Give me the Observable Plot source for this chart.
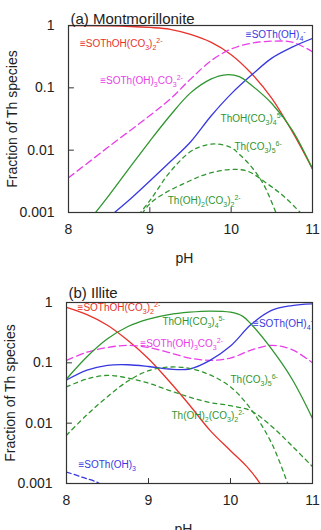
<!DOCTYPE html>
<html><head><meta charset="utf-8">
<script src="https://cdn.jsdelivr.net/npm/d3@7"></script>
<script src="https://cdn.jsdelivr.net/npm/@observablehq/plot@0.6"></script>
<style>
body{margin:0;background:#fff;}
#chart svg{display:block;}
</style></head><body><div id="chart"></div>
<script>
// ---- axes ----
const xTicks = [8, 9, 10, 11];
const yTicks = [0.001, 0.01, 0.1, 1];

// ---- colours ----
const RED = "#e8322a", MAG = "#e83fe8", BLUE = "#3838e0", GREEN = "#2f962f";

// ---- panel (a) Montmorillonite ----
const aRedPH = [8, 8.5, 9, 9.25, 9.5, 9.75, 10, 10.25, 10.5, 10.75, 11];
const aRed   = [1.0, 0.99, 0.93, 0.87, 0.72, 0.54, 0.34, 0.17, 0.068, 0.020, 0.005];
const aMagPH = [8, 8.5, 9, 9.25, 9.5, 9.75, 10, 10.25, 10.5, 10.75, 11];
const aMag   = [0.0036, 0.0115, 0.036, 0.066, 0.138, 0.27, 0.42, 0.52, 0.56, 0.54, 0.38];
const aBluePH = [8.5, 8.75, 9, 9.25, 9.5, 9.75, 10, 10.25, 10.5, 10.75, 11];
const aBlue   = [0.00085, 0.0016, 0.0032, 0.0065, 0.0135, 0.035, 0.08, 0.16, 0.30, 0.45, 0.62];
const aGreenPH = [8.25, 8.5, 8.75, 9, 9.25, 9.5, 9.75, 9.93, 10.1, 10.25, 10.5, 10.75, 11];
const aGreen   = [0.00073, 0.0019, 0.0052, 0.014, 0.036, 0.083, 0.138, 0.162, 0.151, 0.11, 0.056, 0.021, 0.005];
const aTc5PH = [8.8, 9, 9.25, 9.5, 9.65, 9.81, 10, 10.1, 10.25, 10.4, 10.55, 10.62];
const aTc5   = [0.00073, 0.00155, 0.0045, 0.0095, 0.0117, 0.0126, 0.011, 0.0086, 0.0054, 0.0028, 0.001, 0.0006];
const aTo2PH = [8.85, 9, 9.2, 9.44, 9.64, 9.8, 10, 10.2, 10.46, 10.65, 10.85, 10.92];
const aTo2   = [0.00075, 0.00138, 0.0021, 0.003, 0.0039, 0.0045, 0.0049, 0.0046, 0.0028, 0.0018, 0.001, 0.0008];

// ---- panel (b) Illite ----
const bPH = [8, 8.25, 8.5, 8.75, 9, 9.25, 9.5, 9.75, 10, 10.25, 10.5, 10.75, 11];
const bRedPH = [8, 8.25, 8.5, 8.75, 9, 9.25, 9.5, 9.75, 10, 10.2, 10.36, 10.42];
const bRed   = [0.83, 0.63, 0.42, 0.234, 0.117, 0.050, 0.020, 0.0076, 0.0035, 0.0019, 0.001, 0.0007];
const bGreenPH = [8, 8.25, 8.5, 8.75, 9, 9.25, 9.5, 9.75, 10, 10.15, 10.25, 10.5, 10.75, 11];
const bGreen   = [0.054, 0.126, 0.25, 0.40, 0.53, 0.63, 0.69, 0.72, 0.69, 0.59, 0.44, 0.17, 0.054, 0.012];
const bBlue = [0.052, 0.076, 0.091, 0.093, 0.087, 0.079, 0.079, 0.11, 0.19, 0.43, 0.74, 0.89, 0.95];
const bMag  = [0.11, 0.15, 0.18, 0.195, 0.18, 0.148, 0.12, 0.11, 0.12, 0.162, 0.195, 0.166, 0.10];
const bTc5PH = [8, 8.25, 8.5, 8.75, 9, 9.25, 9.5, 9.75, 10, 10.25, 10.5, 10.7, 10.75];
const bTc5   = [0.0063, 0.0138, 0.0275, 0.05, 0.074, 0.085, 0.081, 0.063, 0.040, 0.017, 0.0047, 0.001, 0.0007];
const bTo2  = [0.040, 0.054, 0.062, 0.056, 0.046, 0.035, 0.027, 0.022, 0.0195, 0.016, 0.0089, 0.0042, 0.0019];
const bSo3PH = [8, 8.2, 8.4, 8.46];
const bSo3   = [0.00155, 0.00126, 0.001, 0.0008];

// ---- labels (text, pH, fraction) ----
const aLabels = [
  {t: "≡SOThOH(CO_{3})_{2}^{2-}", x: 8.14, y: 0.51, c: RED},
  {t: "≡SOTh(OH)_{3}CO_{3}^{2-}", x: 8.39, y: 0.13, c: MAG},
  {t: "≡SOTh(OH)_{4}^{-}", x: 10.18, y: 0.72, c: BLUE},
  {t: "ThOH(CO_{3})_{4}^{5-}", x: 9.87, y: 0.032, c: GREEN},
  {t: "Th(CO_{3})_{5}^{6-}", x: 10.04, y: 0.0115, c: GREEN},
  {t: "Th(OH)_{2}(CO_{3})_{2}^{2-}", x: 9.22, y: 0.00155, c: GREEN}
];
const bLabels = [
  {t: "≡SOThOH(CO_{3})_{2}^{2-}", x: 8.135, y: 0.83, c: RED},
  {t: "ThOH(CO_{3})_{4}^{5-}", x: 9.17, y: 0.47, c: GREEN},
  {t: "≡SOTh(OH)_{4}^{-}", x: 10.275, y: 0.45, c: BLUE},
  {t: "≡SOTh(OH)_{3}CO_{3}^{2-}", x: 8.9, y: 0.21, c: MAG},
  {t: "Th(CO_{3})_{5}^{6-}", x: 10.0, y: 0.053, c: GREEN},
  {t: "Th(OH)_{2}(CO_{3})_{2}^{2-}", x: 9.28, y: 0.0134, c: GREEN},
  {t: "≡SOTh(OH)_{3}", x: 8.146, y: 0.00205, c: BLUE}
];

function rows(ph, f) { return ph.map((x, i) => ({x, y: f[i]})); }
const tickShape = {draw(ctx, l) { ctx.moveTo(0, 0); ctx.lineTo(0, -l); }};
const FONT = "'Liberation Sans', Arial, sans-serif";

function richify(svg) {
  svg.querySelectorAll("text").forEach(t => {
    const s = t.textContent;
    if (!/[_^]\{/.test(s)) return;
    t.textContent = "";
    const re = /([_^])\{([^}]*)\}/g;
    let last = 0, m, cur = 0;
    const add = (txt, shift, small) => {
      const ts = document.createElementNS("http://www.w3.org/2000/svg", "tspan");
      ts.textContent = txt;
      const d = shift - cur;
      if (d) ts.setAttribute("dy", d);
      cur = shift;
      if (small) ts.setAttribute("font-size", "7");
      t.appendChild(ts);
    };
    while ((m = re.exec(s))) {
      if (m.index > last) add(s.slice(last, m.index), 0, false);
      add(m[2], m[1] === "_" ? 3 : -4, true);
      last = re.lastIndex;
    }
    if (last < s.length) add(s.slice(last), 0, false);
  });
}

function panel(cfg) {
  const marks = [];
  for (const s of cfg.series) {
    marks.push(Plot.line(rows(s.ph, s.f), {x: "x", y: "y", stroke: s.color, strokeWidth: 1.3,
      strokeDasharray: s.dash, curve: "catmull-rom", clip: true}));
  }
  marks.push(Plot.frame({stroke: "#333", strokeWidth: 1.2}));
  marks.push(Plot.vector(xTicks, {x: d => d, frameAnchor: "bottom", length: 5, rotate: 0, anchor: "start",
    shape: tickShape, stroke: "#333", strokeWidth: 1}));
  marks.push(Plot.vector(yTicks, {y: d => d, frameAnchor: "left", length: 5, rotate: 90, anchor: "start",
    shape: tickShape, stroke: "#333", strokeWidth: 1}));
  marks.push(Plot.axisX(xTicks, {tickSize: 0, tickPadding: 12, fontSize: 14, label: null, fill: "#222"}));
  marks.push(Plot.axisY(yTicks, {tickSize: 0, tickPadding: 14, fontSize: 14, label: null, fill: "#222",
    tickFormat: d => String(d)}));
  for (const l of cfg.labels) {
    marks.push(Plot.text([l], {x: "x", y: "y", text: "t", fill: l.c, textAnchor: "start", fontSize: 10, clip: true}));
  }
  marks.push(Plot.text([cfg.title], {frameAnchor: "top-left", textAnchor: "start", dx: 2, dy: cfg.titleDy,
    fontSize: 15, fill: "#222"}));
  marks.push(Plot.text(["pH"], {frameAnchor: "bottom", textAnchor: "middle", lineAnchor: "top", dx: -6, dy: 41,
    fontSize: 14, fill: "#222"}));
  marks.push(Plot.text(["Fraction of Th species"], {frameAnchor: "left", textAnchor: "middle", rotate: -90,
    dx: -56, fontSize: 14, fill: "#222"}));
  const svg = Plot.plot({
    width: 321, height: cfg.height,
    marginTop: cfg.marginTop, marginBottom: cfg.marginBottom, marginLeft: cfg.marginLeft, marginRight: 9,
    style: {fontFamily: FONT, background: "#fff"},
    x: {domain: [8, 11]},
    y: {type: "log", domain: [0.001, 1]},
    marks
  });
  richify(svg);
  return svg;
}

const chart = document.getElementById("chart");
chart.appendChild(panel({
  title: "(a) Montmorillonite", titleDy: -12,
  height: 270, marginTop: 25, marginBottom: 58, marginLeft: 68,
  series: [
    {ph: aRedPH, f: aRed, color: RED},
    {ph: aMagPH, f: aMag, color: MAG, dash: "7,4"},
    {ph: aBluePH, f: aBlue, color: BLUE},
    {ph: aGreenPH, f: aGreen, color: GREEN},
    {ph: aTc5PH, f: aTc5, color: GREEN, dash: "4,4"},
    {ph: aTo2PH, f: aTo2, color: GREEN, dash: "4,4"}
  ],
  labels: aLabels
}));
chart.appendChild(panel({
  title: "(b) Illite", titleDy: -15,
  height: 260, marginTop: 32, marginBottom: 47, marginLeft: 66,
  series: [
    {ph: bRedPH, f: bRed, color: RED},
    {ph: bPH, f: bMag, color: MAG, dash: "7,4"},
    {ph: bPH, f: bBlue, color: BLUE},
    {ph: bGreenPH, f: bGreen, color: GREEN},
    {ph: bTc5PH, f: bTc5, color: GREEN, dash: "4,4"},
    {ph: bPH, f: bTo2, color: GREEN, dash: "4,4"},
    {ph: bSo3PH, f: bSo3, color: BLUE, dash: "5,3"}
  ],
  labels: bLabels
}));
</script></body></html>
